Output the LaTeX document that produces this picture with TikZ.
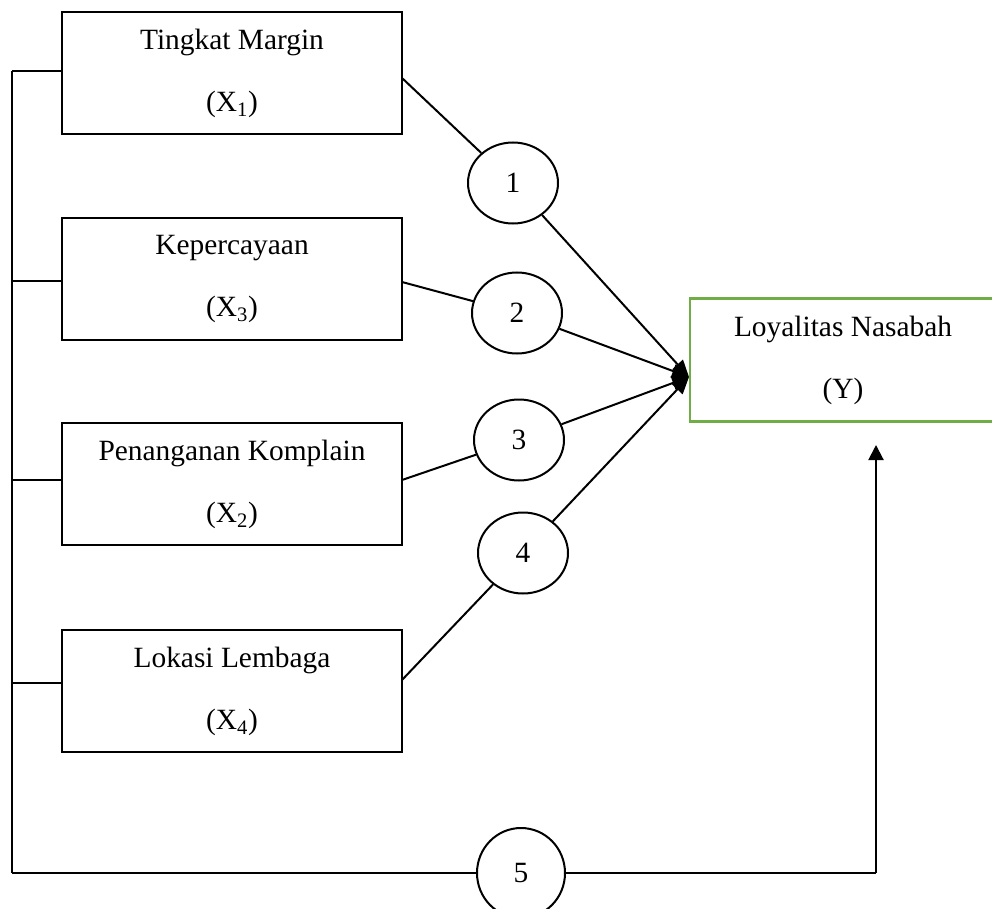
\documentclass[tikz,border=0pt]{standalone}
\usepackage{fontspec}
\setmainfont{Liberation Serif}
\usetikzlibrary{arrows.meta,shapes.geometric}
\definecolor{boxgreen}{RGB}{112,173,71}
\begin{document}
\begin{tikzpicture}[x=1pt,y=-1pt,
  every node/.style={font=\fontsize{29.4}{62}\selectfont},
  varbox/.style={draw=black,line width=2.2pt,minimum width=340pt,minimum height=122pt,align=center,inner sep=0pt},
  ybox/.style={draw=boxgreen,line width=2.2pt,minimum width=306pt,minimum height=123pt,align=center,inner sep=0pt},
  num/.style={ellipse,draw=black,line width=2pt,minimum width=90pt,minimum height=81pt,inner sep=0pt},
  link/.style={line width=2pt},
  thinline/.style={line width=1.2pt},
  arr/.style={line width=2pt,-{Triangle[length=17pt,width=14pt]}},
  uparr/.style={line width=2pt,-{Triangle[length=15pt,width=15pt]}}]
\useasboundingbox (0,0) rectangle (992,909);
\clip (0,0) rectangle (992,909);

% variable boxes
\node[varbox] (b1) at (232,73)  {Tingkat Margin\\(X\textsubscript{1})};
\node[varbox] (b2) at (232,279) {Kepercayaan\\(X\textsubscript{3})};
\node[varbox] (b3) at (232,484) {Penanganan Komplain\\(X\textsubscript{2})};
\node[varbox] (b4) at (232,691) {Lokasi Lembaga\\(X\textsubscript{4})};
\node[ybox]   (y)  at (843,360) {Loyalitas Nasabah\\(Y)};

% numbered ellipses
\node[num] (e1) at (513,183) {1};
\node[num] (e2) at (517,313) {2};
\node[num] (e3) at (519,440) {3};
\node[num] (e4) at (523,553) {4};
\node[num,minimum width=88pt,minimum height=90pt] (e5) at (521,873) {5};

% helper coordinates
\coordinate (s1) at (402,78);
\coordinate (s2) at (402,282);
\coordinate (s3) at (402,480);
\coordinate (s4) at (402,680);
\coordinate (tip) at (689,377);
\coordinate (top) at (12,71);
\coordinate (bot) at (12,873);
\coordinate (corner) at (876,873);
\coordinate (ytip) at (876,445);

% left spine and ticks
\draw[thinline] (top) -- (bot);
\draw[thinline] ([yshift=2pt]b1.west) -- (top);
\draw[thinline] ([yshift=-2pt]b2.west) -- ([yshift=-2pt]b2.west -| top);
\draw[thinline] ([yshift=4pt]b3.west) -- ([yshift=4pt]b3.west -| top);
\draw[thinline] ([yshift=8pt]b4.west) -- ([yshift=8pt]b4.west -| top);

% paths through the ellipses
\draw[link] (s1) -- (e1);
\draw[link] (s2) -- (e2);
\draw[link] (s3) -- (e3);
\draw[link] (s4) -- (e4);
\draw[arr] (e1) -- (tip);
\draw[arr] (e2) -- (tip);
\draw[arr] (e3) -- (tip);
\draw[arr] (e4) -- (tip);

% bottom path
\draw[line width=1.5pt] (bot) -- (e5);
\draw[line width=1.5pt] (e5) -- (corner);
\draw[uparr] (corner) -- (ytip);
\end{tikzpicture}
\end{document}
